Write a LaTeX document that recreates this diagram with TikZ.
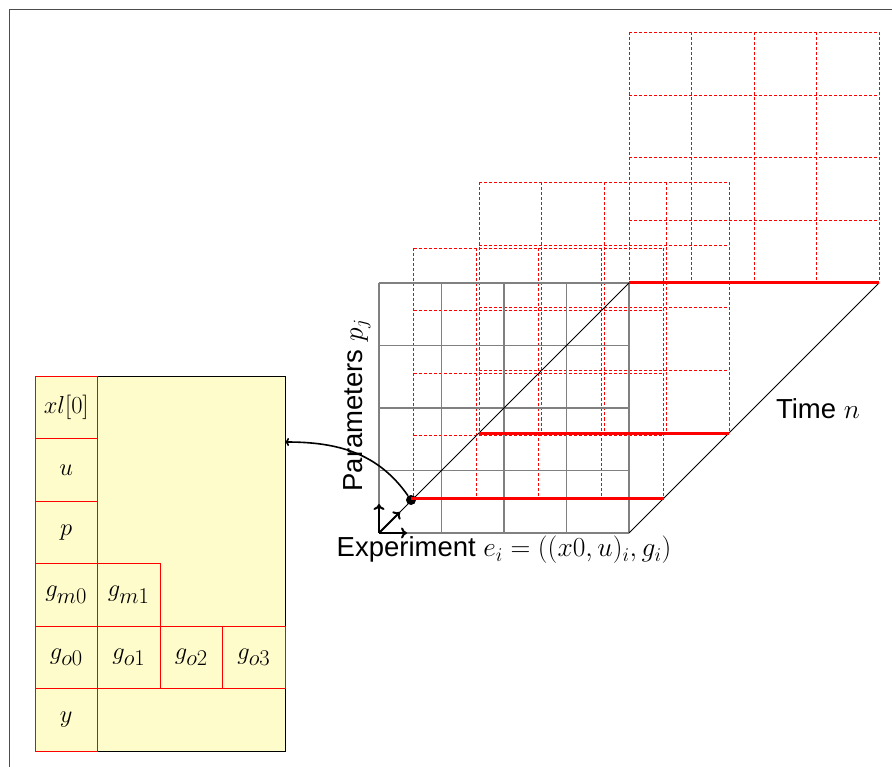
\RequirePackage{fix-cm}
\documentclass[tikz,border=0pt]{standalone}
\usepackage{fontspec}
\setsansfont{Liberation Sans}
\usetikzlibrary{arrows.meta}
\DeclareMathSizes{24.5}{24.5}{22.5}{22.5}
\DeclareMathSizes{27.5}{27.5}{19.5}{14}
\definecolor{boxyellow}{RGB}{255,252,204}
\newcommand\redgrid[2]{%
  \foreach \i in {0,...,4} {
    \draw[rdash] ({#1+62.5*\i},{#2}) -- ({#1+62.5*\i},{#2+250});
    \draw[rdash] ({#1},{#2+62.5*\i}) -- ({#1+250},{#2+62.5*\i});
  }}
\begin{document}
\begin{tikzpicture}[x=1pt,y=-1pt,
  gridline/.style={black!50, line width=1.3pt},
  rdash/.style={red, line width=0.85pt, dash pattern=on 3pt off 2pt},
  rthick/.style={red, line width=3pt},
  thinline/.style={black, line width=0.8pt},
  smallarrow/.style={-{To[length=6pt,width=11pt]}, line width=2pt},
  cell/.style={draw=red, line width=0.9pt, minimum size=62.5pt, inner sep=0pt, anchor=center, font=\fontsize{24.5}{29}\selectfont},
  lbl/.style={font=\sffamily\fontsize{27.5}{33}\selectfont, inner sep=0pt}]
\useasboundingbox (0,0) rectangle (892,767);
\draw[line width=1pt, black!70] (9,767) -- (9,10) -- (892,10);

% red dashed time slices
\redgrid{413.5}{248}
\redgrid{479}{182.5}
\redgrid{629}{32.5}

% front grid
\coordinate (O) at (379,533);
\coordinate (BR) at (629,533);
\coordinate (TR) at (629,283);
\coordinate (FarTR) at (879,283);
\foreach \i in {0,...,4} {
  \draw[gridline] ({379+62.5*\i},283) -- ({379+62.5*\i},533);
  \draw[gridline] (379,{283+62.5*\i}) -- (629,{283+62.5*\i});
}
\draw[thinline] (O) -- (TR);
\draw[thinline] (BR) -- (FarTR);

% thick red lines
\node[circle, fill=black, inner sep=0pt, minimum size=10pt] (dot) at (411,500) {};
\coordinate (r1e) at (664,498);
\coordinate (r2s) at (479,433);
\coordinate (r2e) at (729,433);
\draw[rthick] (411,498) -- (r1e);
\draw[rthick] (r2s) -- (r2e);
\draw[rthick] (TR) -- (FarTR);

% small axes
\coordinate (ax1) at (379,504);
\coordinate (ax2) at (407,533);
\coordinate (ax3) at (400,512);
\draw[smallarrow] (O) -- (ax1);
\draw[smallarrow] (O) -- (ax2);
\draw[smallarrow] (O) -- (ax3);

% labels
\node[lbl] (explbl) at (504,550) {Experiment $e_i = ((x0,u)_i, g_i)$};
\node[lbl, rotate=90] (parlbl) at (357,405) {Parameters $p_j$};
\node[lbl] (timelbl) at (818,409) {Time $n$};

% left box
\node[draw=black, line width=0.8pt, fill=boxyellow, minimum width=250pt, minimum height=375pt, inner sep=0pt] (box) at (160,563.5) {};
\node[cell] (xl) at (66.25,407.25) {$xl[0]$};
\node[cell] (u) at (66.25,469.75) {$u$};
\node[cell] (p) at (66.25,532.25) {$p$};
\node[cell] (gm0) at (66.25,594.75) {$g_{m0}$};
\node[cell] (gm1) at (128.75,594.75) {$g_{m1}$};
\node[cell] (go0) at (66.25,657.25) {$g_{o0}$};
\node[cell] (go1) at (128.75,657.25) {$g_{o1}$};
\node[cell] (go2) at (191.25,657.25) {$g_{o2}$};
\node[cell] (go3) at (253.75,657.25) {$g_{o3}$};
\node[cell] (y) at (66.25,719.75) {$y$};

% connector
\coordinate (boxin) at (285,442);
\draw[-{To[length=4pt,width=8pt]}, line width=1.6pt] (dot) to[out=125,in=0] (boxin);
\end{tikzpicture}
\end{document}
